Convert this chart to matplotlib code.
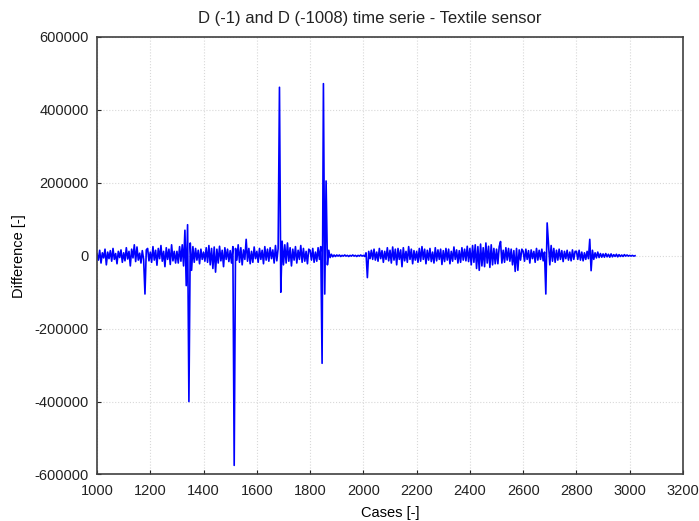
import numpy as np
import matplotlib.pyplot as plt

plt.rcParams["font.family"] = ["Liberation Sans", "DejaVu Sans"]

case_start = 1000
case_step = 5
diff_k = [
    # 1000-1095
    5, -12, 15, -20, 8, -6, 18, -25, 10, -8, 14, -15, 20, -10, 6, -22, 12, -5, 16, -18,
    # 1100-1195
    8, -14, 22, -9, 12, -28, 18, -6, 30, -16, 24, -12, 7, -20, 14, -10, -105, 16, 20, -14,
    # 1200-1295
    10, -18, 25, -12, 15, -26, 20, -8, 28, -15, 12, -30, 22, -10, 18, -24, 30, -14, 12, -20,
    # 1300-1395
    12, -20, 25, -15, 30, -28, 70, -82, 85, -400, 35, -40, 25, -18, 20, -12, 15, -22, 18, -10,
    # 1400-1495
    10, -15, 22, -18, 28, -25, 20, -35, 24, -45, 18, -20, 26, -14, 15, -30, 22, -10, 18, -16,
    # 1500-1595
    14, -20, 25, -575, 20, -12, 30, -18, 22, -25, 16, -10, 45, -15, 20, -22, 12, -18, 24, -8,
    # 1600-1695
    12, -18, 20, -10, 15, -22, 25, -12, 18, -15, 22, -8, 16, -20, 28, -14, 20, 462, -100, 40,
    # 1700-1795
    -25, 30, -20, 35, -15, 22, -28, 18, -12, 25, -20, 15, -10, 28, -18, 20, -15, 12, -22, 18,
    # 1800-1895
    15, -12, 20, -18, 10, -15, 22, -10, 25, -295, 472, -105, 205, -25, 15, -5, 4, -3, 2, -2,
    # 1900-1995
    2, -1, 2, -2, 1, -1, 2, -1, 1, -2, 1, -1, 2, -1, 1, -2, 1, -1, 2, -1,
    # 2000-2095
    1, -2, 8, -60, 12, -8, 15, -10, 18, -12, 10, -15, 20, -8, 14, -18, 12, -10, 22, -14,
    # 2100-2195
    15, -20, 24, -12, 18, -25, 20, -10, 16, -30, 22, -14, 12, -18, 25, -10, 18, -22, 14, -12,
    # 2200-2295
    12, -18, 20, -15, 25, -10, 18, -22, 15, -12, 20, -16, 10, -20, 22, -14, 16, -10, 18, -24,
    # 2300-2395
    14, -16, 20, -12, 18, -22, 12, -15, 24, -10, 16, -20, 14, -18, 22, -12, 18, -14, 26, -16,
    # 2400-2495
    20, -25, 28, -18, 30, -35, 25, -40, 32, -28, 22, -30, 35, -20, 26, -32, 30, -25, 20, -22,
    # 2500-2595
    18, -22, 25, 39, -20, 15, -18, 22, -12, 20, -15, 18, -25, 14, -43, 20, -40, 16, -12, 18,
    # 2600-2695
    12, -15, 18, -10, 14, -20, 16, -8, 12, -18, 20, -12, 15, -10, 18, -14, 10, -105, 90, 30,
    # 2700-2795
    -25, 28, -15, 20, -18, 15, -12, 18, -10, 14, -16, 12, -8, 15, -12, 10, -14, 16, -10, 12,
    # 2800-2895
    12, -10, 15, -12, 10, -14, 8, -10, 12, -8, 45, -41, 15, -10, 8, -6, 10, -5, 6, -4,
    # 2900-2995
    5, -4, 6, -3, 4, -4, 5, -3, 3, -2, 4, -3, 3, -2, 2, -2, 3, -1, 2, -1,
    # 3000-3020
    1, -1, 1, -1, 0,
]

x_ticks = [1000, 1200, 1400, 1600, 1800, 2000, 2200, 2400, 2600, 2800, 3000, 3200]
y_ticks = [-600000, -400000, -200000, 0, 200000, 400000, 600000]

cases = case_start + case_step * np.arange(len(diff_k))
diff = np.array(diff_k) * 1000

fig = plt.figure(figsize=(6.99, 5.21), dpi=100)
ax = fig.add_axes([0.1388, 0.0893, 0.8383, 0.8397])

ax.plot(cases, diff, color="#0000FF", linewidth=1.2)

ax.set_xlim(1000, 3200)
ax.set_ylim(-600000, 600000)
ax.set_xticks(x_ticks)
ax.set_yticks(y_ticks)
ax.set_yticklabels([str(v) for v in y_ticks])
ax.tick_params(direction="in", length=3, labelsize=10.5, colors="#222222")
ax.tick_params(axis="x", pad=6.5)
ax.tick_params(axis="y", pad=6)
ax.grid(True, color="#d8d8d8", linestyle=":", linewidth=0.8)
for s in ax.spines.values():
    s.set_color("#404040")
    s.set_linewidth(1.2)

# title sits a bit left of the axes centre in the original
fig.text(370 / 699, 1 - 19 / 521, "D (-1) and D (-1008) time serie - Textile sensor",
         ha="center", va="center", fontsize=12, color="#222222")
ax.set_xlabel("Cases [-]", fontsize=10.5, labelpad=6)
ax.set_ylabel("Difference [-]", fontsize=10.5, labelpad=6)

fig.savefig("out.png", dpi=100)
